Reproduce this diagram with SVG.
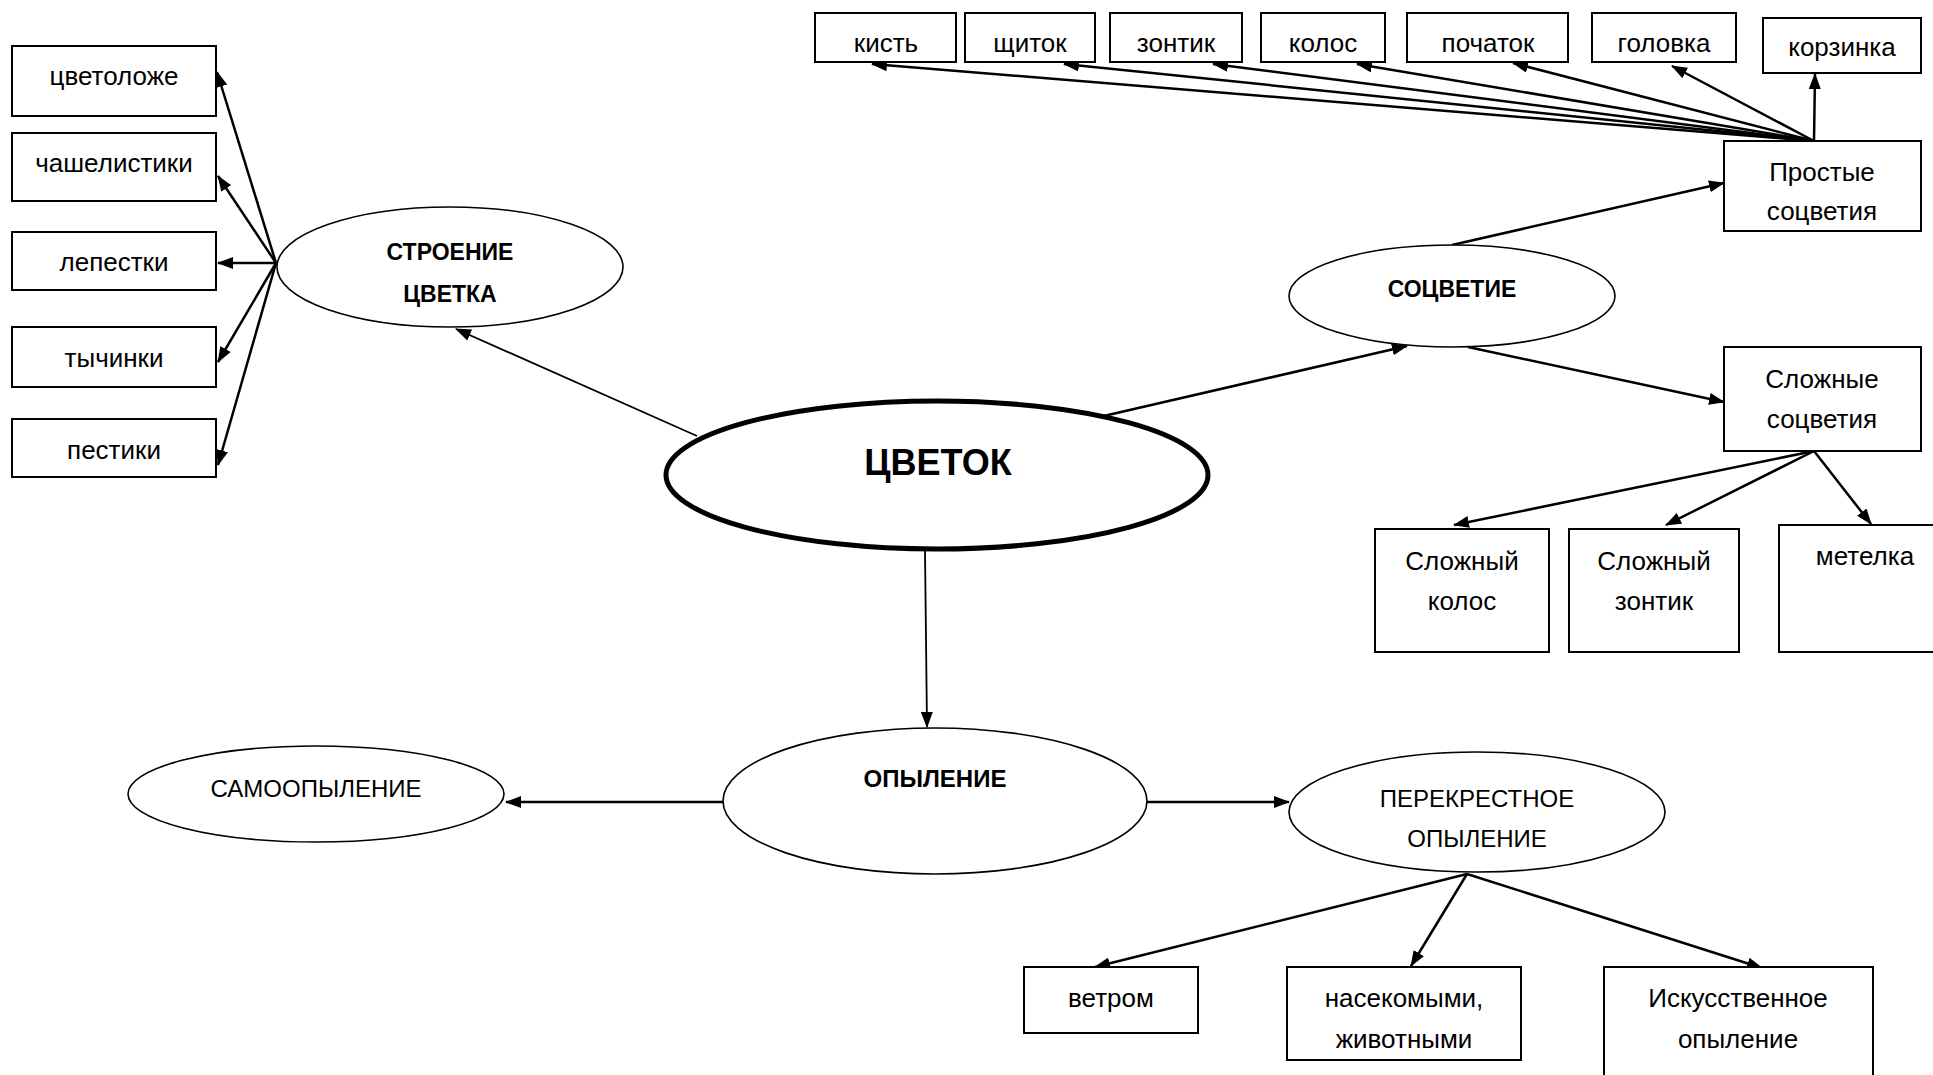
<svg xmlns="http://www.w3.org/2000/svg" width="1933" height="1075" viewBox="0 0 1933 1075">
<style>
  .box { fill: #fff; stroke: #000; stroke-width: 2; }
  .ell { fill: #fff; stroke: #000; stroke-width: 1.6; }
  .main { fill: #fff; stroke: #000; stroke-width: 5; }
  .t { font-family: "Liberation Sans", Arial, sans-serif; font-size: 26px; fill: #000; text-anchor: middle; }
  .caps { font-size: 24px; }
  .b { font-weight: bold; font-size: 23px; }
  .big { font-weight: bold; font-size: 36px; }
  .c { fill: none; stroke: #000; stroke-width: 2.5; marker-end: url(#ah); }
  .thin { stroke-width: 1.8; }
</style>
<defs>
  <marker id="ah" markerUnits="userSpaceOnUse" markerWidth="16" markerHeight="12" refX="15" refY="6" orient="auto">
    <path d="M0,0 L16,6 L0,12 z" fill="#000"/>
  </marker>
</defs>
<rect width="1933" height="1075" fill="#fff"/>

<g id="connectors">
  <line class="c" x1="276" y1="263" x2="217" y2="72"/>
  <line class="c" x1="276" y1="263" x2="218" y2="176"/>
  <line class="c" x1="276" y1="263" x2="218" y2="263"/>
  <line class="c" x1="276" y1="263" x2="218" y2="362"/>
  <line class="c" x1="276" y1="263" x2="218" y2="465"/>
  <line class="c thin" x1="697" y1="436" x2="456" y2="329"/>
  <line class="c" x1="1095" y1="418" x2="1407" y2="346"/>
  <line class="c" x1="1452" y1="245" x2="1724" y2="183"/>
  <line class="c" x1="1468" y1="347" x2="1724" y2="402"/>
  <line class="c" x1="1814" y1="141" x2="872" y2="64"/>
  <line class="c" x1="1814" y1="141" x2="1064" y2="64"/>
  <line class="c" x1="1814" y1="141" x2="1213" y2="64"/>
  <line class="c" x1="1814" y1="141" x2="1357" y2="64"/>
  <line class="c" x1="1814" y1="141" x2="1513" y2="63"/>
  <line class="c" x1="1814" y1="141" x2="1672" y2="66"/>
  <line class="c" x1="1814" y1="141" x2="1815" y2="74"/>
  <line class="c" x1="1814" y1="451" x2="1454" y2="525"/>
  <line class="c" x1="1814" y1="451" x2="1666" y2="525"/>
  <line class="c" x1="1814" y1="451" x2="1871" y2="524"/>
  <line class="c thin" x1="925" y1="551" x2="927" y2="727"/>
  <line class="c" x1="723" y1="802" x2="506" y2="802"/>
  <line class="c" x1="1147" y1="802" x2="1289" y2="802"/>
  <line class="c" x1="1467" y1="874" x2="1095" y2="967"/>
  <line class="c" x1="1467" y1="874" x2="1411" y2="966"/>
  <line class="c" x1="1467" y1="874" x2="1762" y2="968"/>
</g>

<g id="n-cvetolozhe"><rect class="box" x="12" y="46" width="204" height="70"/><text class="t" x="114" y="85">цветоложе</text></g>
<g id="n-chashelistiki"><rect class="box" x="12" y="133" width="204" height="68"/><text class="t" x="114" y="172">чашелистики</text></g>
<g id="n-lepestki"><rect class="box" x="12" y="232" width="204" height="58"/><text class="t" x="114" y="271">лепестки</text></g>
<g id="n-tychinki"><rect class="box" x="12" y="327" width="204" height="60"/><text class="t" x="114" y="367">тычинки</text></g>
<g id="n-pestiki"><rect class="box" x="12" y="419" width="204" height="58"/><text class="t" x="114" y="459">пестики</text></g>

<g id="n-stroenie"><ellipse class="ell" cx="450" cy="267" rx="173" ry="60"/><text class="t b" x="450" y="260">СТРОЕНИЕ</text><text class="t b" x="450" y="302">ЦВЕТКА</text></g>

<g id="n-cvetok"><ellipse class="main" cx="937" cy="475" rx="271" ry="74"/><text class="t big" x="938" y="475">ЦВЕТОК</text></g>

<g id="n-socvetie"><ellipse class="ell" cx="1452" cy="296" rx="163" ry="51"/><text class="t b" x="1452" y="297">СОЦВЕТИЕ</text></g>

<g id="n-kist"><rect class="box" x="815" y="13" width="141" height="49"/><text class="t" x="886" y="52">кисть</text></g>
<g id="n-shchitok"><rect class="box" x="965" y="13" width="130" height="49"/><text class="t" x="1030" y="52">щиток</text></g>
<g id="n-zontik"><rect class="box" x="1110" y="13" width="132" height="49"/><text class="t" x="1176" y="52">зонтик</text></g>
<g id="n-kolos"><rect class="box" x="1261" y="13" width="124" height="49"/><text class="t" x="1323" y="52">колос</text></g>
<g id="n-pochatok"><rect class="box" x="1407" y="13" width="161" height="49"/><text class="t" x="1488" y="52">початок</text></g>
<g id="n-golovka"><rect class="box" x="1592" y="13" width="144" height="49"/><text class="t" x="1664" y="52">головка</text></g>
<g id="n-korzinka"><rect class="box" x="1763" y="18" width="158" height="55"/><text class="t" x="1842" y="56">корзинка</text></g>

<g id="n-prostye"><rect class="box" x="1724" y="141" width="197" height="90"/><text class="t" x="1822" y="181">Простые</text><text class="t" x="1822" y="220">соцветия</text></g>
<g id="n-slozhnye"><rect class="box" x="1724" y="347" width="197" height="104"/><text class="t" x="1822" y="388">Сложные</text><text class="t" x="1822" y="428">соцветия</text></g>

<g id="n-sl-kolos"><rect class="box" x="1375" y="529" width="174" height="123"/><text class="t" x="1462" y="570">Сложный</text><text class="t" x="1462" y="610">колос</text></g>
<g id="n-sl-zontik"><rect class="box" x="1569" y="529" width="170" height="123"/><text class="t" x="1654" y="570">Сложный</text><text class="t" x="1654" y="610">зонтик</text></g>
<g id="n-metelka"><rect class="box" x="1779" y="525" width="170" height="127"/><text class="t" x="1865" y="565">метелка</text></g>

<g id="n-opylenie"><ellipse class="ell" cx="935" cy="801" rx="212" ry="73"/><text class="t b" x="935" y="787" style="font-size:24px">ОПЫЛЕНИЕ</text></g>
<g id="n-samoopylenie"><ellipse class="ell" cx="316" cy="794" rx="188" ry="48"/><text class="t caps" x="316" y="797">САМООПЫЛЕНИЕ</text></g>
<g id="n-perekrestnoe"><ellipse class="ell" cx="1477" cy="812" rx="188" ry="60"/><text class="t caps" x="1477" y="807">ПЕРЕКРЕСТНОЕ</text><text class="t caps" x="1477" y="847">ОПЫЛЕНИЕ</text></g>

<g id="n-vetrom"><rect class="box" x="1024" y="967" width="174" height="66"/><text class="t" x="1111" y="1007">ветром</text></g>
<g id="n-nasekomymi"><rect class="box" x="1287" y="967" width="234" height="93"/><text class="t" x="1404" y="1007">насекомыми,</text><text class="t" x="1404" y="1048">животными</text></g>
<g id="n-iskusstvennoe"><rect class="box" x="1604" y="967" width="269" height="120"/><text class="t" x="1738" y="1007">Искусственное</text><text class="t" x="1738" y="1048">опыление</text></g>
</svg>
